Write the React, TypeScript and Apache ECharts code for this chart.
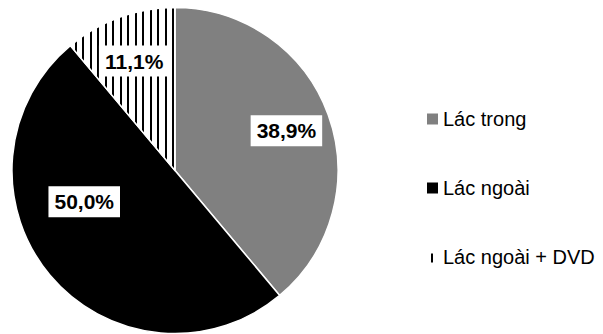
import React, { useEffect, useRef } from "react";
import * as echarts from "echarts";

const categories = ["Lác trong", "Lác ngoài", "Lác ngoài + DVD"];
const values = [38.9, 50.0, 11.1];
const labelTexts = ["38,9%", "50,0%", "11,1%"];

function makeHatch(): string {
  const c = document.createElement("canvas");
  c.width = 15;
  c.height = 15;
  const ctx = c.getContext("2d");
  if (ctx) {
    ctx.fillStyle = "#ffffff";
    ctx.fillRect(0, 0, 15, 15);
    ctx.fillStyle = "#000000";
    ctx.fillRect(0, 0, 2, 15);
    ctx.fillRect(7, 0, 2, 15);
  }
  return c.toDataURL();
}

function makeHatchIcon(): string {
  const c = document.createElement("canvas");
  c.width = 11;
  c.height = 11;
  const ctx = c.getContext("2d");
  if (ctx) {
    ctx.clearRect(0, 0, 11, 11);
    ctx.fillStyle = "#000000";
    ctx.fillRect(4, 2, 2, 9);
  }
  return c.toDataURL();
}

export default function App() {
  const ref = useRef<HTMLDivElement>(null);
  useEffect(() => {
    if (!ref.current) return;
    const chart = echarts.init(ref.current, undefined, { renderer: "svg" });
    const hatch = makeHatch();
    const hatchIcon = makeHatchIcon();
    const colors: any[] = ["#808080", "#000000", { image: hatch, repeat: "repeat" }];
    const offsets = [
      [32, -11],
      [-26, -23],
      [-12, -30],
    ];
    chart.setOption({
      animation: false,
      backgroundColor: "#ffffff",
      legend: {
        orient: "vertical",
        left: 422,
        top: 104,
        itemWidth: 11,
        itemHeight: 11,
        itemGap: 49,
        selectedMode: false,
        itemStyle: { borderWidth: 0 },
        textStyle: { fontSize: 20, color: "#000", fontFamily: "Liberation Sans, Arial, sans-serif" },
        data: [
          { name: categories[0], icon: "rect" },
          { name: categories[1], icon: "rect" },
          { name: categories[2], icon: "image://" + hatchIcon },
        ],
      },
      series: [
        {
          type: "pie",
          center: [175, 170.5],
          radius: [0, 163],
          startAngle: 90,
          clockwise: true,
          silent: true,
          data: categories.map((name, i) => ({
            name,
            value: values[i],
            itemStyle: { color: colors[i] },
          })),
          itemStyle: { borderColor: "#ffffff", borderWidth: 1.5 },
          label: {
            show: true,
            position: "inside",
            formatter: (p: any) => labelTexts[p.dataIndex],
            backgroundColor: "#ffffff",
            padding: [5, 6, 4, 6],
            color: "#000",
            fontWeight: "bold",
            fontSize: 21,
            lineHeight: 22,
            fontFamily: "Liberation Sans, Arial, sans-serif",
          },
          labelLine: { show: false },
          labelLayout: (p: any) => ({ dx: offsets[p.dataIndex][0], dy: offsets[p.dataIndex][1] }),
        },
      ],
    });
    return () => chart.dispose();
  }, []);
  return (
    <div
      ref={ref}
      style={{ position: "fixed", left: 0, top: 0, width: 603, height: 334 }}
    />
  );
}
